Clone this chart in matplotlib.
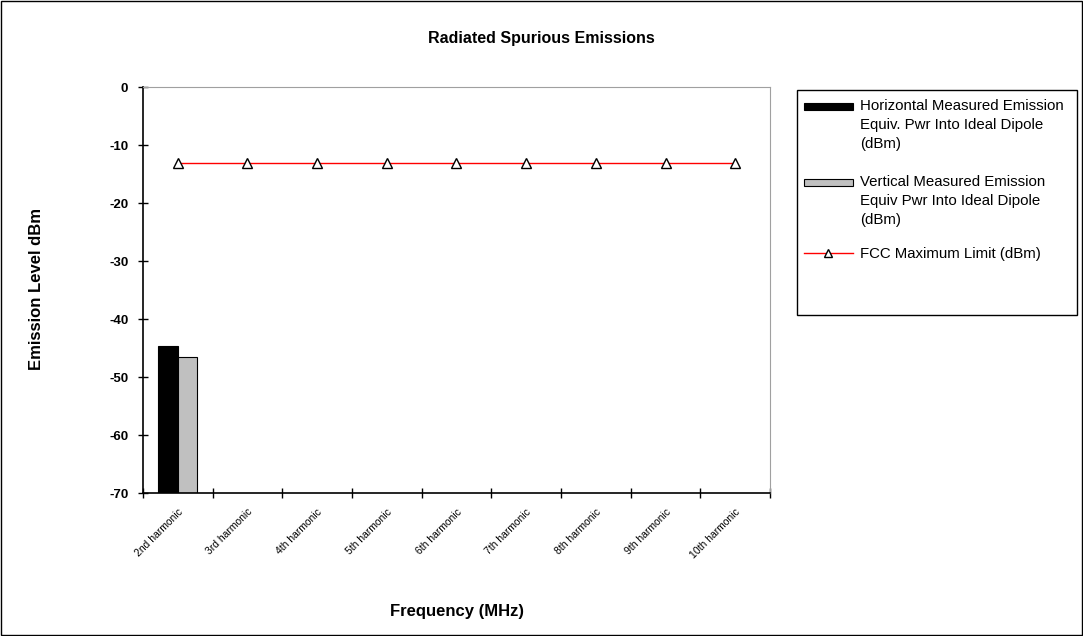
import matplotlib.pyplot as plt
import matplotlib.patches as mpatches
from matplotlib.lines import Line2D
import numpy as np

plt.rcParams['font.family'] = ['Liberation Sans', 'DejaVu Sans']
plt.rcParams['axes.unicode_minus'] = False

harmonics = ['2nd harmonic', '3rd harmonic', '4th harmonic', '5th harmonic', '6th harmonic',
             '7th harmonic', '8th harmonic', '9th harmonic', '10th harmonic']
horizontal = [-44.7, None, None, None, None, None, None, None, None]
vertical = [-46.6, None, None, None, None, None, None, None, None]
fcc_limit = [-13, -13, -13, -13, -13, -13, -13, -13, -13]

fig = plt.figure(figsize=(10.83, 6.36), dpi=100)
ax = fig.add_axes([0.132, 0.2248, 0.579, 0.6382])

x = np.arange(len(harmonics))
w = 0.28
ymin = -70
for i in range(len(harmonics)):
    if horizontal[i] is not None:
        ax.bar(x[i] - w / 2, horizontal[i] - ymin, w, bottom=ymin, color='black',
               edgecolor='black', linewidth=0.8, zorder=2)
    if vertical[i] is not None:
        ax.bar(x[i] + w / 2, vertical[i] - ymin, w, bottom=ymin, color='#c0c0c0',
               edgecolor='black', linewidth=0.8, zorder=2)

ax.plot(x, fcc_limit, color='red', linewidth=1, marker='^', markersize=7,
        markerfacecolor='white', markeredgecolor='black', markeredgewidth=1, zorder=3)

ax.set_xlim(-0.5, len(harmonics) - 0.5)
ax.set_ylim(-70, 0)
ax.set_yticks(range(-70, 1, 10))
ax.set_xticks(np.arange(-0.5, len(harmonics), 1.0))
ax.set_xticks(x, minor=True)
ax.set_xticklabels([])
ax.set_xticklabels(harmonics, minor=True, rotation=45, ha='right',
                   rotation_mode='anchor', fontsize=7.5)
ax.tick_params(axis='x', which='minor', length=0, pad=10)
ax.tick_params(axis='x', which='major', direction='inout', length=7, width=1)
ax.tick_params(axis='y', direction='inout', length=7, width=1, labelsize=9.5, pad=7)
for lab in ax.get_yticklabels():
    lab.set_fontweight('bold')

ax.spines['top'].set_color('#a0a0a0')
ax.spines['right'].set_color('#a0a0a0')
ax.spines['top'].set_linewidth(0.8)
ax.spines['right'].set_linewidth(0.8)
ax.spines['left'].set_linewidth(1.2)
ax.spines['bottom'].set_linewidth(1.2)

fig.text(0.5, 0.94, 'Radiated Spurious Emissions', ha='center', va='center',
         fontsize=11.5, fontweight='bold')
fig.text(0.034, 0.545, 'Emission Level dBm', ha='center', va='center', rotation=90,
         fontsize=12, fontweight='bold')
fig.text(0.422, 0.038, 'Frequency (MHz)', ha='center', va='center',
         fontsize=12, fontweight='bold')

# legend drawn by hand in pixel positions (Excel style, handle on first line)
W, H = 1083, 636
def fx(px):
    return px / W
def fy(py):
    return 1 - py / H

fig.patches.append(mpatches.Rectangle((fx(797), fy(315)), fx(1077) - fx(797), fy(90) - fy(315),
                                      transform=fig.transFigure, facecolor='white',
                                      edgecolor='black', linewidth=1))
labels = [
    'Horizontal Measured Emission\nEquiv. Pwr Into Ideal Dipole\n(dBm)',
    'Vertical Measured Emission\nEquiv Pwr Into Ideal Dipole\n(dBm)',
    'FCC Maximum Limit (dBm)',
]
rows = [108, 184, 256]
fig.patches.append(mpatches.Rectangle((fx(804), fy(110)), fx(853) - fx(804), fy(103) - fy(110),
                                      transform=fig.transFigure, facecolor='black',
                                      edgecolor='black', linewidth=0.8))
fig.patches.append(mpatches.Rectangle((fx(804), fy(186)), fx(853) - fx(804), fy(179) - fy(186),
                                      transform=fig.transFigure, facecolor='#c0c0c0',
                                      edgecolor='black', linewidth=0.8))
fig.add_artist(Line2D([fx(804), fx(853)], [fy(253), fy(253)], transform=fig.transFigure,
                      color='red', linewidth=1))
fig.add_artist(Line2D([fx(828)], [fy(253)], transform=fig.transFigure, marker='^',
                      markersize=6, markerfacecolor='white', markeredgecolor='black',
                      linestyle='none'))
for lab, r in zip(labels, rows):
    fig.text(fx(860), fy(r - 9), lab, ha='left', va='top', fontsize=10.8,
             linespacing=1.45)

# outer border
fig.patches.append(mpatches.Rectangle((0.001, 0.001), 0.998, 0.998, transform=fig.transFigure,
                                      facecolor='none', edgecolor='black', linewidth=1))

plt.savefig('out.png', dpi=100)
